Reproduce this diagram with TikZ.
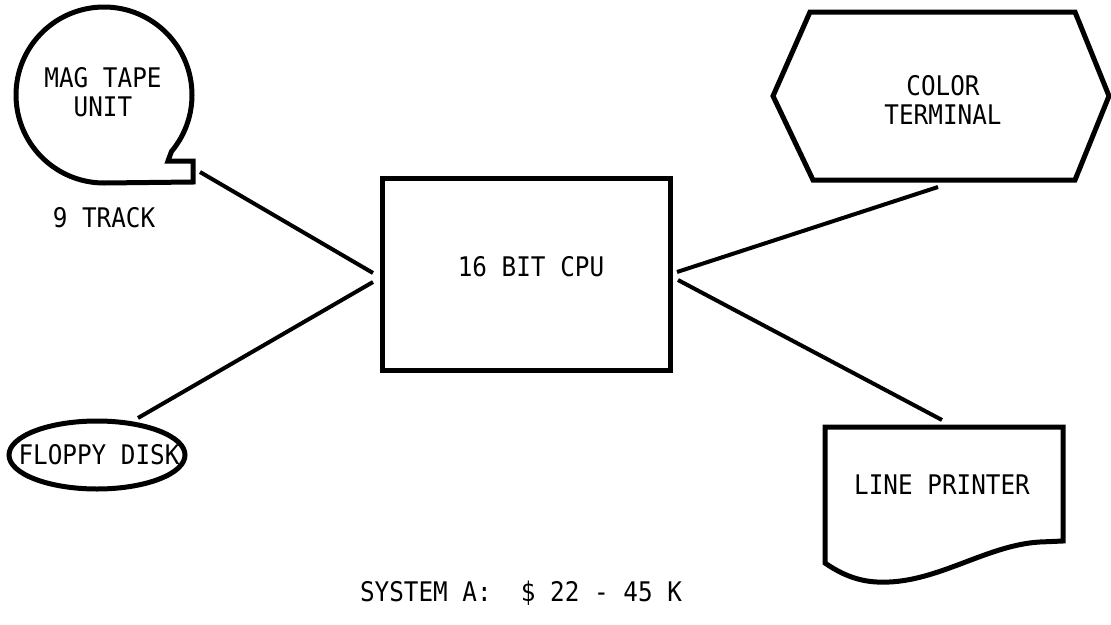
\documentclass[tikz,border=0pt]{standalone}
\usepackage{fontspec}
\setmainfont[FakeStretch=0.9]{DejaVu Sans Mono}
\usetikzlibrary{shapes.geometric}
\begin{document}
\begin{tikzpicture}[x=1pt,y=-1pt,
  outline/.style={draw=black,line width=5pt,line join=miter},
  link/.style={draw=black,line width=4pt},
  label/.style={font=\fontsize{27}{29}\selectfont,align=center,inner sep=0pt}]
\useasboundingbox[fill=white] (0,0) rectangle (1111,624);

% central processor
\node[outline,rectangle,minimum width=288pt,minimum height=192pt,inner sep=0pt] (cpu) at (526,274) {};
\node[label] (cpulbl) at (531,267) {16 BIT CPU};

% magnetic tape reel with its notch
\draw[outline] (104,95) ++(40:88) arc[start angle=40,end angle=-270,radius=88]
  -- (193,182) -- (193,161) -- (168,161) -- cycle;
\node[label] (tape) at (103,92) {MAG TAPE\\UNIT};
\node[label] (track) at (104,218) {9 TRACK};

% floppy disk
\node[outline,ellipse,minimum width=176pt,minimum height=68pt,inner sep=0pt] (floppy) at (97,455) {};
\node[label] (floppylbl) at (99,455) {FLOPPY DISK};

% colour terminal
\draw[outline] (810,12) -- (1075,12) -- (1109,96) -- (1075,180) -- (813,180) -- (773,96) -- cycle;
\node[label] (term) at (943,100) {COLOR\\TERMINAL};

% line printer (document symbol)
\draw[outline] (825,427) -- (1063,427) -- (1063,541) -- (1040,542)
  .. controls (985,545) and (935,585) .. (877,582)
  .. controls (855,581) and (838,572) .. (825,563) -- cycle;
\node[label] (printer) at (942,485) {LINE PRINTER};

% cost line
\node[label] (cost) at (521,593) {SYSTEM A:\ \ \$ 22 - 45 K};

% connector ends
\coordinate (tapeport) at (200,172);
\coordinate (floppyport) at (138,418);
\coordinate (termport) at (938,187);
\coordinate (printport) at (942,420);
\coordinate (cpuw1) at (373,273);
\coordinate (cpuw2) at (373,282);
\coordinate (cpue1) at (677,272);
\coordinate (cpue2) at (678,280);

\draw[link] (tapeport) -- (cpuw1);
\draw[link] (floppyport) -- (cpuw2);
\draw[link] (cpue1) -- (termport);
\draw[link] (cpue2) -- (printport);
\end{tikzpicture}
\end{document}
